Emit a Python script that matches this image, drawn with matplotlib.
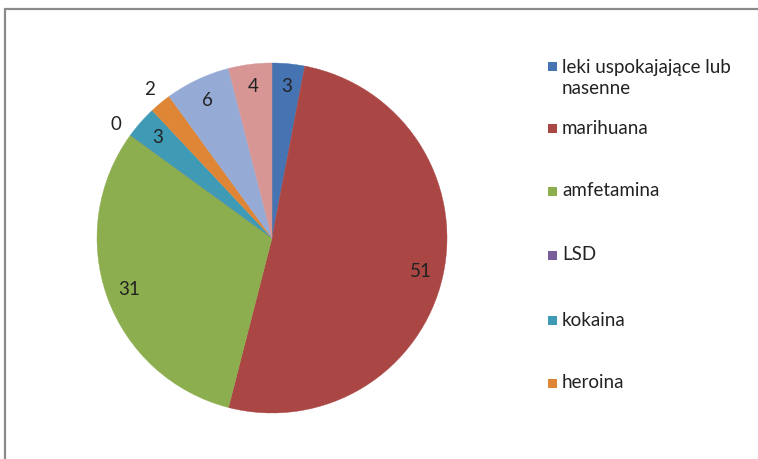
import numpy as np
import matplotlib.pyplot as plt
from matplotlib.patches import Rectangle

plt.rcParams['font.family'] = ['Lato', 'DejaVu Sans']

# data
labels = ['leki uspokajające lub\nnasenne', 'marihuana', 'amfetamina', 'LSD',
          'kokaina', 'heroina', 'inne 1', 'inne 2']
values = [3, 51, 31, 0, 3, 2, 6, 4]
colors = ['#4674B2', '#AA4644', '#8DAE4F', '#7A5E9B', '#3F9BB5', '#DF8636',
          '#95ABD6', '#D79594']
outside = [False, False, False, True, False, True, False, False]
n_legend = 6  # legend in the reference is cut after "heroina"

W, H = 758, 459
fig = plt.figure(figsize=(W / 100, H / 100), dpi=100)

# outer chart frame (right and bottom cut off in the reference)
fig.patches.append(Rectangle((5 / W, -0.1), 1.2, 1 - 9 / H + 0.1, transform=fig.transFigure,
                             fill=False, edgecolor='#8a8a8a', linewidth=1.6))

cx, cy, r = 272, 238, 175
ax = fig.add_axes([(cx - r) / W, (H - cy - r) / H, 2 * r / W, 2 * r / H])
wedges, _ = ax.pie(values, colors=colors, startangle=90, counterclock=False,
                   radius=1.0, wedgeprops=dict(linewidth=0))
for w in wedges:
    w.set_edgecolor(w.get_facecolor())
    w.set_linewidth(0.3)
ax.set_xlim(-1, 1)
ax.set_ylim(-1, 1)
ax.set_aspect('equal')
ax.axis('off')

for w, v, out in zip(wedges, values, outside):
    ang = np.deg2rad((w.theta1 + w.theta2) / 2)
    d = 1.10 if out else 0.87
    ax.text(d * np.cos(ang), d * np.sin(ang), str(v), ha='center', va='center',
            fontsize=13.5, color='#222222')

# legend drawn entry by entry to match the reference spacing
lx = 548
ys = [78, 128, 191, 255, 320, 383]
for i in range(n_legend):
    y = ys[i]
    sq_y = 66 if i == 0 else y
    fig.patches.append(Rectangle((lx / W, (H - sq_y - 5) / H), 9 / W, 9 / H,
                                 transform=fig.transFigure, facecolor=colors[i],
                                 edgecolor='none'))
    fig.text((lx + 14) / W, (H - y) / H, labels[i], ha='left', va='center',
             fontsize=13.5, color='#222222', linespacing=1.3)

fig.savefig('out.png', dpi=100)
